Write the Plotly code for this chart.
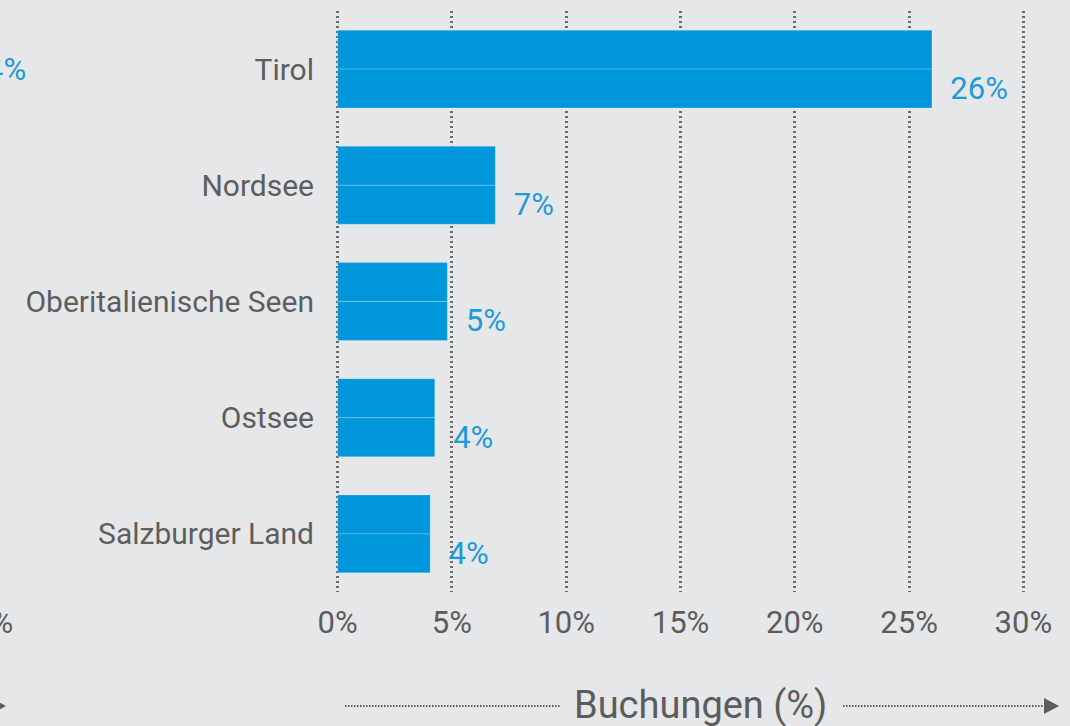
import plotly.graph_objects as go

# ---- data ----
regions = ["Tirol", "Nordsee", "Oberitalienische Seen", "Ostsee", "Salzburger Land"]
bookings = [26.0, 6.9, 4.8, 4.25, 4.05]
x_tick_values = [0, 5, 10, 15, 20, 25, 30]
x_tick_labels = ["0%", "5%", "10%", "15%", "20%", "25%", "30%"]
axis_title = "Buchungen (%)"
# fragments of the neighbouring (cropped) panel on the left
left_panel_label = "4%"
left_panel_tick = "0%"

# ---- style ----
BG = "#E6E7E9"
BAR = "#0096DC"
LABEL = "#1E9AD8"
GREY = "#5C5C5C"
FONT = "Roboto"

W, H = 1070, 726
ML, MR, MT, MB = 336, 45, 11, 134
PW, PH = W - ML - MR, H - MT - MB


def px(x):
    return (x - ML) / PW


def py(y):
    return (MT + PH - y) / PH


fig = go.Figure()
# bar drawn as two stacked halves (upper without label, lower with label)
fig.add_trace(go.Bar(
    y=regions, x=bookings, orientation="h",
    marker=dict(color=BAR, line=dict(color="rgba(255,255,255,0.22)", width=1)),
    hoverinfo="skip", showlegend=False,
))
fig.add_trace(go.Bar(
    y=regions, x=bookings, orientation="h",
    marker=dict(color=BAR, line=dict(color="rgba(255,255,255,0.22)", width=1)),
    text=[f"\u00a0\u00a0{v:.0f}%" for v in bookings],
    textposition="outside", cliponaxis=False,
    textfont=dict(family=FONT, size=31, color=LABEL),
    hoverinfo="skip", showlegend=False,
))

fig.update_layout(
    width=W, height=H,
    margin=dict(l=ML, r=MR, t=MT, b=MB, pad=0),
    paper_bgcolor=BG, plot_bgcolor=BG,
    barmode="group", bargap=0.33, bargroupgap=0,
    font=dict(family=FONT, color=GREY),
)
fig.update_xaxes(
    range=[-0.07, 30.07], tickvals=x_tick_values, ticktext=x_tick_labels,
    showgrid=True, gridcolor="#6A6A6A", gridwidth=2.5, griddash="2px,3px",
    zeroline=False, showline=False,
    tickfont=dict(family=FONT, size=31, color=GREY),
    ticklabelstandoff=9,
)
fig.update_yaxes(
    categoryorder="array", categoryarray=regions, autorange="reversed",
    showgrid=False, zeroline=False, showline=False,
    tickfont=dict(family=FONT, size=30, color="#5E5E5E"),
    ticklabelstandoff=21,
)

# axis title with dotted arrow
fig.add_annotation(
    xref="paper", yref="paper", x=px(700), y=py(705), text=axis_title,
    showarrow=False, font=dict(family=FONT, size=38, color=GREY),
    xanchor="center", yanchor="middle",
)
for x0, x1 in [(345, 560), (843, 1046)]:
    fig.add_shape(type="line", xref="paper", yref="paper",
                  x0=px(x0), x1=px(x1), y0=py(706), y1=py(706),
                  line=dict(color=GREY, width=2, dash="1.5px,1.5px"))
fig.add_shape(type="path", xref="paper", yref="paper",
              path=f"M {px(1044)} {py(698)} L {px(1059)} {py(706)} L {px(1044)} {py(714)} Z",
              fillcolor=GREY, line=dict(width=0))

# cropped fragments of the left neighbouring panel
fig.add_annotation(
    xref="paper", yref="paper", x=px(28), y=py(69), text=left_panel_label,
    showarrow=False, font=dict(family=FONT, size=31, color=LABEL),
    xanchor="right", yanchor="middle",
)
fig.add_annotation(
    xref="paper", yref="paper", x=px(15), y=py(622), text=left_panel_tick,
    showarrow=False, font=dict(family=FONT, size=31, color=GREY),
    xanchor="right", yanchor="middle",
)
fig.add_shape(type="path", xref="paper", yref="paper",
              path=f"M {px(-9)} {py(698)} L {px(6)} {py(706)} L {px(-9)} {py(714)} Z",
              fillcolor=GREY, line=dict(width=0))

fig.write_html(
    "out.html",
    config={"displayModeBar": False},
    post_script="document.body.style.margin='0';document.body.style.background='" + BG + "';",
)
